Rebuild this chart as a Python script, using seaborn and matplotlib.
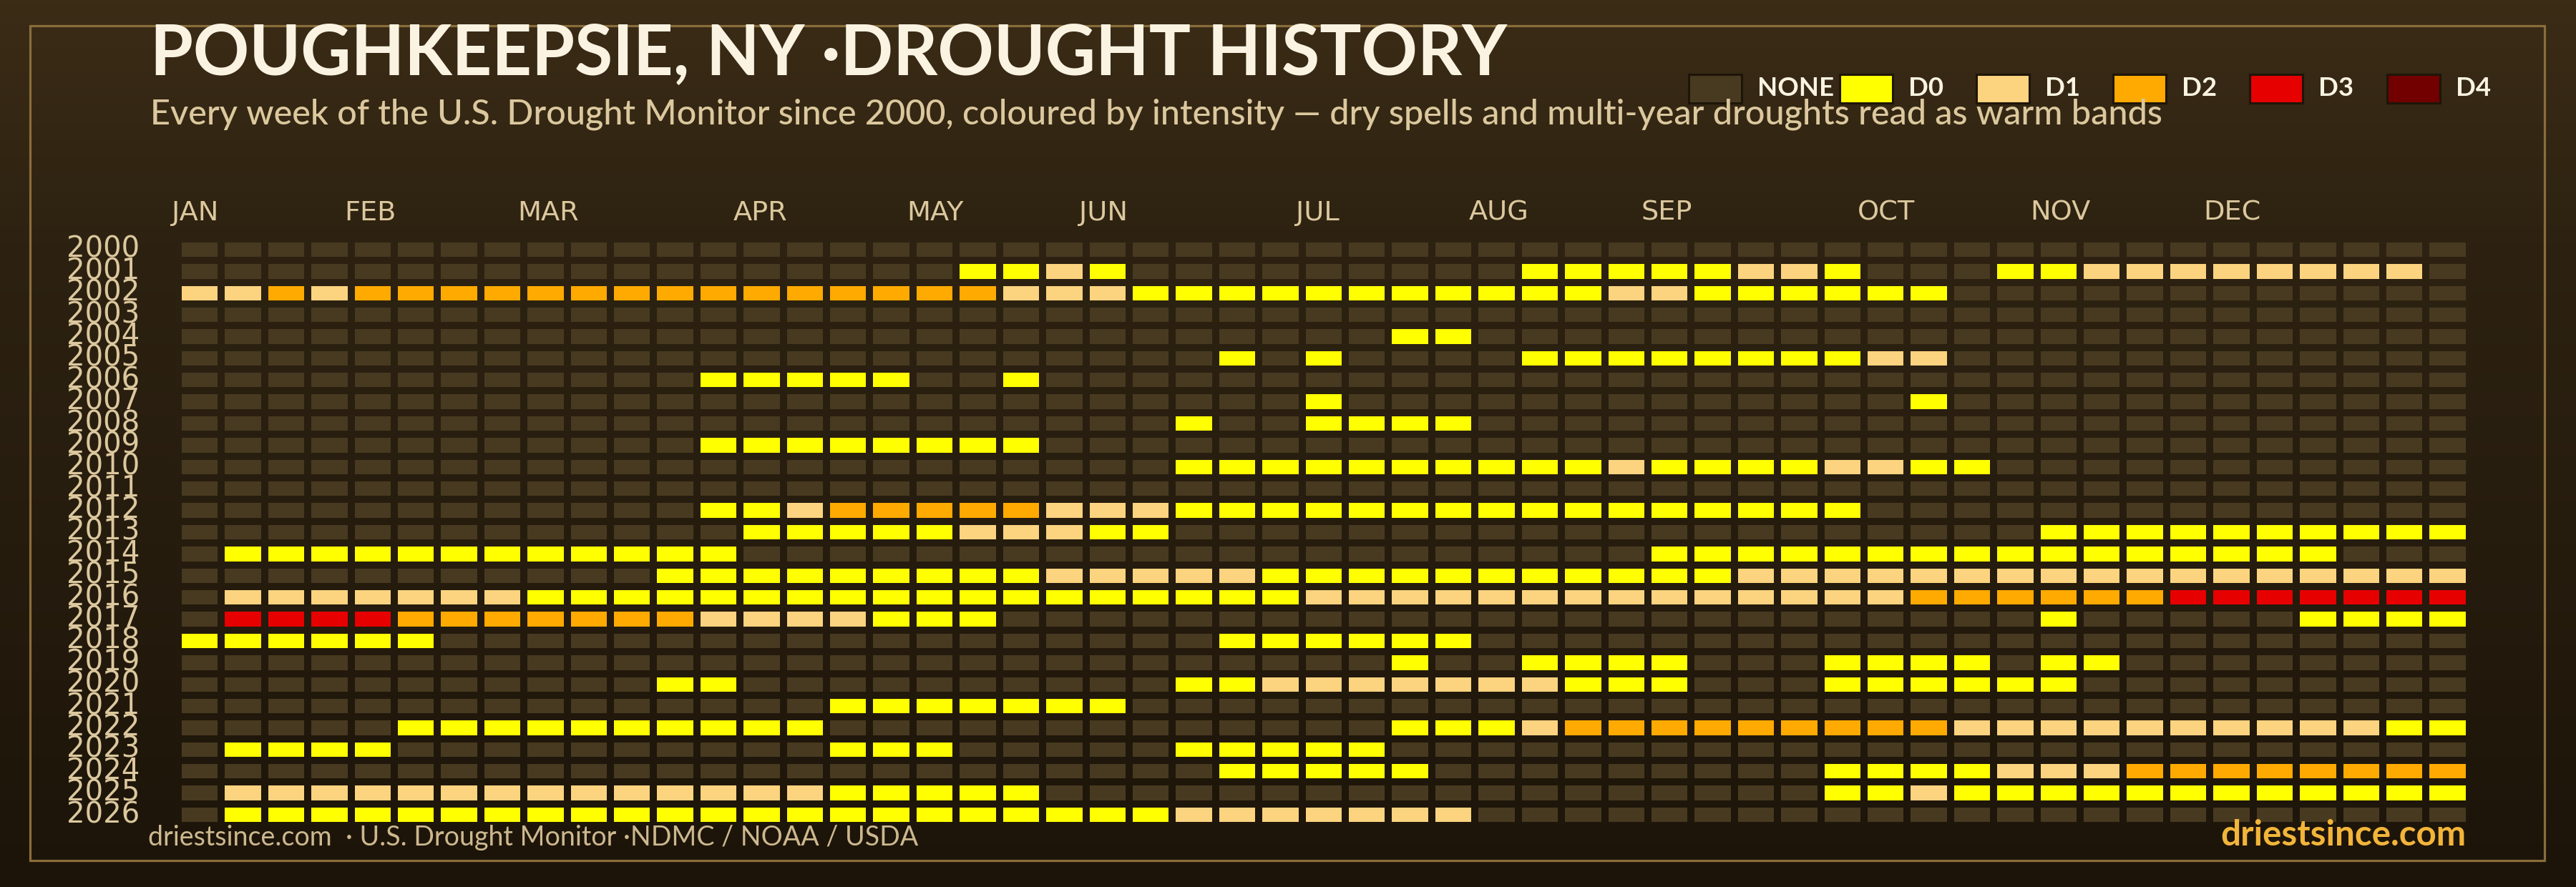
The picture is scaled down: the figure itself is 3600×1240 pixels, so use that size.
import numpy as np
import pandas as pd
import matplotlib
matplotlib.use("Agg")
import matplotlib.pyplot as plt
import seaborn as sns
from matplotlib.colors import ListedColormap, to_rgb
from matplotlib.patches import Rectangle

# ---------------- data ----------------
years = list(range(2000, 2027))
# weekly drought level per year (0=none, 1=D0 ... 5=D4), 53 weeks, grouped by 10 with '|'
weekly_codes = [
    "0000000000|0000000000|0000000000|0000000000|0000000000|000",  # 2000
    "0000000000|0000000011|2100000000|0111112210|0011222222|220",  # 2001
    "2232333333|3333333332|2211111111|1112211111|1000000000|000",  # 2002
    "0000000000|0000000000|0000000000|0000000000|0000000000|000",  # 2003
    "0000000000|0000000000|0000000011|0000000000|0000000000|000",  # 2004
    "0000000000|0000000000|0000101000|0111111112|2000000000|000",  # 2005
    "0000000000|0011111001|0000000000|0000000000|0000000000|000",  # 2006
    "0000000000|0000000000|0000001000|0000000000|1000000000|000",  # 2007
    "0000000000|0000000000|0001001111|0000000000|0000000000|000",  # 2008
    "0000000000|0011111111|0000000000|0000000000|0000000000|000",  # 2009
    "0000000000|0000000000|0001111111|1112111122|1100000000|000",  # 2010
    "0000000000|0000000000|0000000000|0000000000|0000000000|000",  # 2011
    "0000000000|0011233333|2221111111|1111111110|0000000000|000",  # 2012
    "0000000000|0001111122|2110000000|0000000000|0001111111|111",  # 2013
    "0111111111|1110000000|0000000000|0000111111|1111111111|000",  # 2014
    "0000000000|0111111111|2222211111|1111112222|2222222222|222",  # 2015
    "0222222211|1111111111|1111112222|2222222222|3333334444|444",  # 2016
    "0444433333|3322221110|0000000000|0000000000|0001000001|111",  # 2017
    "1111110000|0000000000|0000111111|0000000000|0000000000|000",  # 2018
    "0000000000|0000000000|0000000010|0111100011|1101100000|000",  # 2019
    "0000000000|0110000000|0001122222|2211100011|1111000000|000",  # 2020
    "0000000000|0000011111|1100000000|0000000000|0000000000|000",  # 2021
    "0000011111|1111100000|0000000011|1233333333|3222222222|211",  # 2022
    "0111100000|0000011100|0001111100|0000000000|0000000000|000",  # 2023
    "0000000000|0000000000|0000111110|0000000011|1122233333|333",  # 2024
    "0222222222|2222211111|0000000000|0000000011|2111111111|111",  # 2025
    "0111111111|1111111111|1112222222|0000000000|0000000000|000",  # 2026
]
level_names = ["NONE", "D0", "D1", "D2", "D3", "D4"]
level_colors = ["#483a20", "#ffff00", "#fcd37f", "#ffaa00", "#e60000", "#730000"]
month_labels = ["JAN", "FEB", "MAR", "APR", "MAY", "JUN",
                "JUL", "AUG", "SEP", "OCT", "NOV", "DEC"]
month_start_week = [0, 4, 8, 13, 17, 21, 26, 30, 34, 39, 43, 47]

title = "POUGHKEEPSIE, NY \u00b7DROUGHT HISTORY"
subtitle = ("Every week of the U.S. Drought Monitor since 2000, coloured by intensity "
            "\u2014 dry spells and multi-year droughts read as warm bands")
footer_left = "driestsince.com  \u00b7 U.S. Drought Monitor \u00b7NDMC / NOAA / USDA"
footer_right = "driestsince.com"

matrix = np.array([[int(ch) for ch in s.replace("|", "")] for s in weekly_codes])
assert matrix.shape == (27, 53)
df = pd.DataFrame(matrix, index=years)

# ---------------- figure ----------------
W, H, DPI = 3600, 1240, 100
fig = plt.figure(figsize=(W / DPI, H / DPI), dpi=DPI)


def fx(px):
    return px / W


def fy(py):
    return 1 - py / H


# background vertical gradient
stops_y = [0, 340, 760, 1240]
stops_c = [to_rgb("#3b2c16"), to_rgb("#2d2211"), to_rgb("#261c0e"), to_rgb("#1c1409")]


def bg_at(py):
    return tuple(np.interp(py, stops_y, [c[i] for c in stops_c]) for i in range(3))


ys = np.linspace(0, H, 400)
grad = np.array([bg_at(y) for y in ys])[:, None, :]
bg = fig.add_axes([0, 0, 1, 1], zorder=-10)
bg.imshow(grad, aspect="auto", extent=[0, 1, 0, 1], origin="upper")
bg.axis("off")

# frame
fig.patches.append(Rectangle((fx(42), fy(1203)), (3556 - 42) / W, (1203 - 36) / H,
                             transform=fig.transFigure, fill=False,
                             ec="#8a6d3b", lw=2.3, zorder=1))

# heatmap axes
gap_px = 8.4
L, R, T, B = 244 - gap_px / 2, 3446.6 + gap_px / 2, 338 - gap_px / 2, 1150 + gap_px / 2
ax = fig.add_axes([fx(L), fy(B), (R - L) / W, (B - T) / H])
ax.patch.set_alpha(0)
cmap = ListedColormap(level_colors)
sns.heatmap(df, cmap=cmap, vmin=-0.5, vmax=5.5, cbar=False,
            linewidths=gap_px * 72 / DPI, linecolor="#2a1f10",
            xticklabels=True, yticklabels=True, ax=ax)

# per-row gap colour following the background gradient
mesh = ax.collections[0]
row_h = (B - T) / len(years)
edge_cols = []
for r in range(len(years)):
    c = bg_at(T + (r + 0.5) * row_h)
    edge_cols.extend([c] * matrix.shape[1])
mesh.set_edgecolor(edge_cols)

label_col = "#dcc89e"
ax.set_yticks(np.arange(len(years)) + 0.5)
ax.set_yticklabels(years, rotation=0, va="center", fontsize=29,
                   color=label_col, family="DejaVu Sans")
ax.xaxis.tick_top()
ax.set_xticks([w - 0.15 for w in month_start_week])
ax.set_xticklabels(month_labels, rotation=0, ha="left", fontsize=27.5,
                   color=label_col, family="DejaVu Sans")
ax.tick_params(axis="y", length=0, pad=32)
ax.tick_params(axis="x", length=0, pad=13, top=False, bottom=False,
               labeltop=True, labelbottom=False)
ax.set_xlabel("")
ax.set_ylabel("")
for s in ax.spines.values():
    s.set_visible(False)

# ---------------- texts ----------------
renderer = fig.canvas.get_renderer()


def fit(txt, target_w):
    w = txt.get_window_extent(renderer).width
    txt.set_fontsize(txt.get_fontsize() * target_w / w)


t1 = fig.text(fx(210), fy(105), title, fontsize=60, weight="bold",
              family=["Lato", "DejaVu Sans"], color="#fbf3e2", va="baseline")
fit(t1, 1900)
t2 = fig.text(fx(210), fy(173), subtitle, fontsize=26, weight="medium",
              family=["Lato", "DejaVu Sans"], color=label_col, va="baseline")
fit(t2, 2818)
t3 = fig.text(fx(207), fy(1182), footer_left, fontsize=22,
              family=["Lato", "DejaVu Sans"], color="#cdb88f", va="baseline")
fit(t3, 1072)
t4 = fig.text(fx(3446), fy(1182), footer_right, fontsize=26, weight="bold",
              family=["Lato", "DejaVu Sans"], color="#f2b53a", va="baseline", ha="right")
fit(t4, 343)

# legend (manual row of swatches + labels)
legend_box_x = [2360, 2571, 2762, 2953, 3144, 3336]
leg_fs = None
for i, (name, col) in enumerate(zip(level_names, level_colors)):
    x0 = legend_box_x[i]
    fig.patches.append(Rectangle((fx(x0), fy(144)), 74 / W, 40 / H,
                                 transform=fig.transFigure, fc=col,
                                 ec="#1e1509", lw=2.2, zorder=3))
    tl = fig.text(fx(x0 + 96), fy(134), name, fontsize=27, weight="bold",
                  family=["Lato", "DejaVu Sans"], color="#fbf3e2", va="baseline")
    if i == 0:
        fit(tl, 107)
        leg_fs = tl.get_fontsize()
    else:
        tl.set_fontsize(leg_fs)

fig.savefig("out.png", dpi=DPI)
